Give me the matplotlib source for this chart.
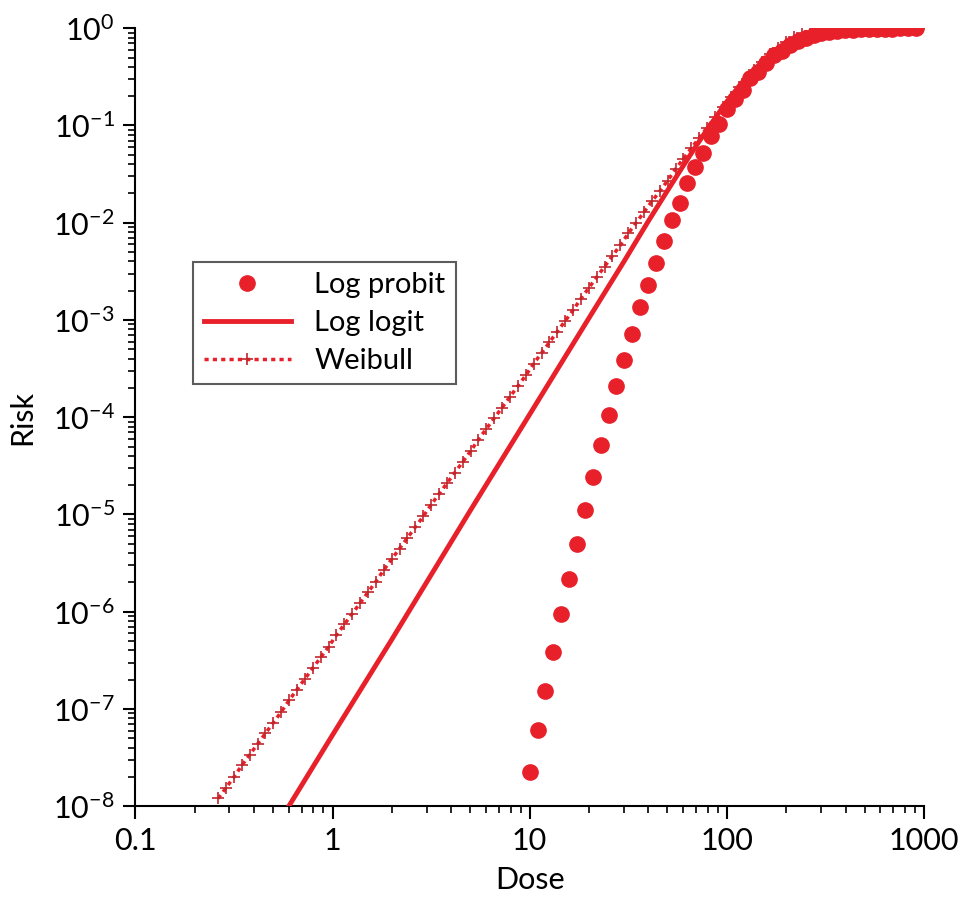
import numpy as np
import matplotlib
matplotlib.use("Agg")
import matplotlib.pyplot as plt
from matplotlib.ticker import LogLocator, FixedLocator

probit_dose = np.logspace(1.0, 2.96, 50)
probit_log10_risk = [-7.65, -7.22, -6.81, -6.41, -6.02, -5.66, -5.30, -4.95, -4.61, -4.29,
                     -3.98, -3.68, -3.41, -3.14, -2.87, -2.64, -2.41, -2.19, -1.97, -1.80,
                     -1.59, -1.43, -1.28, -1.11, -0.98, -0.83, -0.73, -0.63, -0.51, -0.45,
                     -0.36, -0.28, -0.23, -0.17, -0.13, -0.10, -0.07, -0.05, -0.04, -0.03,
                     -0.02, -0.015, -0.01, -0.01, -0.007, -0.005, -0.003, -0.002, -0.001, 0]
probit_risk = 10.0 ** np.array(probit_log10_risk)

logit_dose = [0.6, 1, 2, 5, 10, 20, 30, 40, 50, 60, 70, 80, 100, 120, 150, 200, 300, 500, 1000]
logit_risk = [1.0e-8, 5.4e-8, 5.2e-7, 1.1e-5, 1.07e-4, 1.05e-3, 3.96e-3, 0.0104, 0.0214, 0.0383,
              0.062, 0.093, 0.176, 0.28, 0.448, 0.676, 0.888, 0.978, 0.998]

weibull_dose = np.logspace(-0.58, 2.98, 90)
weibull_log10_risk = [-7.92, -7.81, -7.70, -7.58, -7.47, -7.36, -7.25, -7.14, -7.03, -6.91,
                      -6.80, -6.69, -6.58, -6.47, -6.36, -6.24, -6.13, -6.02, -5.91, -5.80,
                      -5.69, -5.57, -5.46, -5.35, -5.24, -5.13, -5.02, -4.90, -4.79, -4.68,
                      -4.57, -4.46, -4.35, -4.23, -4.12, -4.01, -3.90, -3.79, -3.68, -3.57,
                      -3.45, -3.34, -3.23, -3.12, -3.01, -2.90, -2.78, -2.67, -2.56, -2.45,
                      -2.34, -2.23, -2.11, -2.00, -1.89, -1.78, -1.675, -1.566, -1.448, -1.34,
                      -1.233, -1.127, -1.021, -0.917, -0.815, -0.705, -0.609, -0.517, -0.427, -0.344,
                      -0.268, -0.199, -0.140, -0.088, -0.052, -0.027, -0.012, -0.004, -0.001, 0,
                      0, 0, 0, 0, 0, 0, 0, 0, 0, 0]
weibull_risk = 10.0 ** np.array(weibull_log10_risk)

x_ticks = [0.1, 1, 10, 100, 1000]
x_labels = ["0.1", "1", "10", "100", "1000"]
y_exps = list(range(-8, 1))

RED = "#e8202a"
plt.rcParams['font.family'] = ['Lato', 'DejaVu Sans']
fig = plt.figure(figsize=(9.6, 9.11), dpi=100)
ax = fig.add_axes([0.141, 0.115, 0.8215, 0.854])

ax.plot(weibull_dose, weibull_risk, color=RED, ls=(0, (1.2, 1.2)), lw=2.5,
        marker='+', ms=8, mew=1.2, mec="#c0262c", label="Weibull", zorder=2)
ax.plot(logit_dose, logit_risk, color=RED, lw=3.5, label="Log logit", zorder=3)
ax.plot(probit_dose, probit_risk, 'o', color=RED, ms=11, label="Log probit", zorder=4)

ax.set_xscale('log')
ax.set_yscale('log')
ax.set_xlim(0.1, 1000)
ax.set_ylim(1e-8, 1)
ax.set_xticks(x_ticks)
ax.set_xticklabels(x_labels)
ax.yaxis.set_major_locator(FixedLocator([10.0**e for e in y_exps]))
ax.set_yticklabels([r"$\mathregular{10^{%d}}$" % e for e in y_exps])
ax.xaxis.set_minor_locator(LogLocator(subs=np.arange(2, 10)))
ax.yaxis.set_minor_locator(LogLocator(subs=np.arange(2, 10), numticks=20))
ax.tick_params(axis='both', which='major', direction='out', length=9, width=1.5,
               labelsize=22, pad=6)
ax.tick_params(axis='both', which='minor', direction='out', length=5, width=1.2,
               labelleft=False, labelbottom=False)
for s in ['top', 'right']:
    ax.spines[s].set_visible(False)
for s in ['left', 'bottom']:
    ax.spines[s].set_linewidth(1.5)
ax.set_xlabel("Dose", fontsize=22, labelpad=8)
ax.set_ylabel("Risk", fontsize=22, labelpad=12)

h, l = ax.get_legend_handles_labels()
order = [2, 1, 0]
leg = ax.legend([h[i] for i in order], [l[i] for i in order], loc='upper left',
                bbox_to_anchor=(0.055, 0.718), fontsize=21, frameon=True, fancybox=False,
                edgecolor='#333333', handlelength=3.0, borderpad=0.35, labelspacing=0.4)
leg.get_frame().set_linewidth(1.5)

fig.savefig("out.png", dpi=100)
